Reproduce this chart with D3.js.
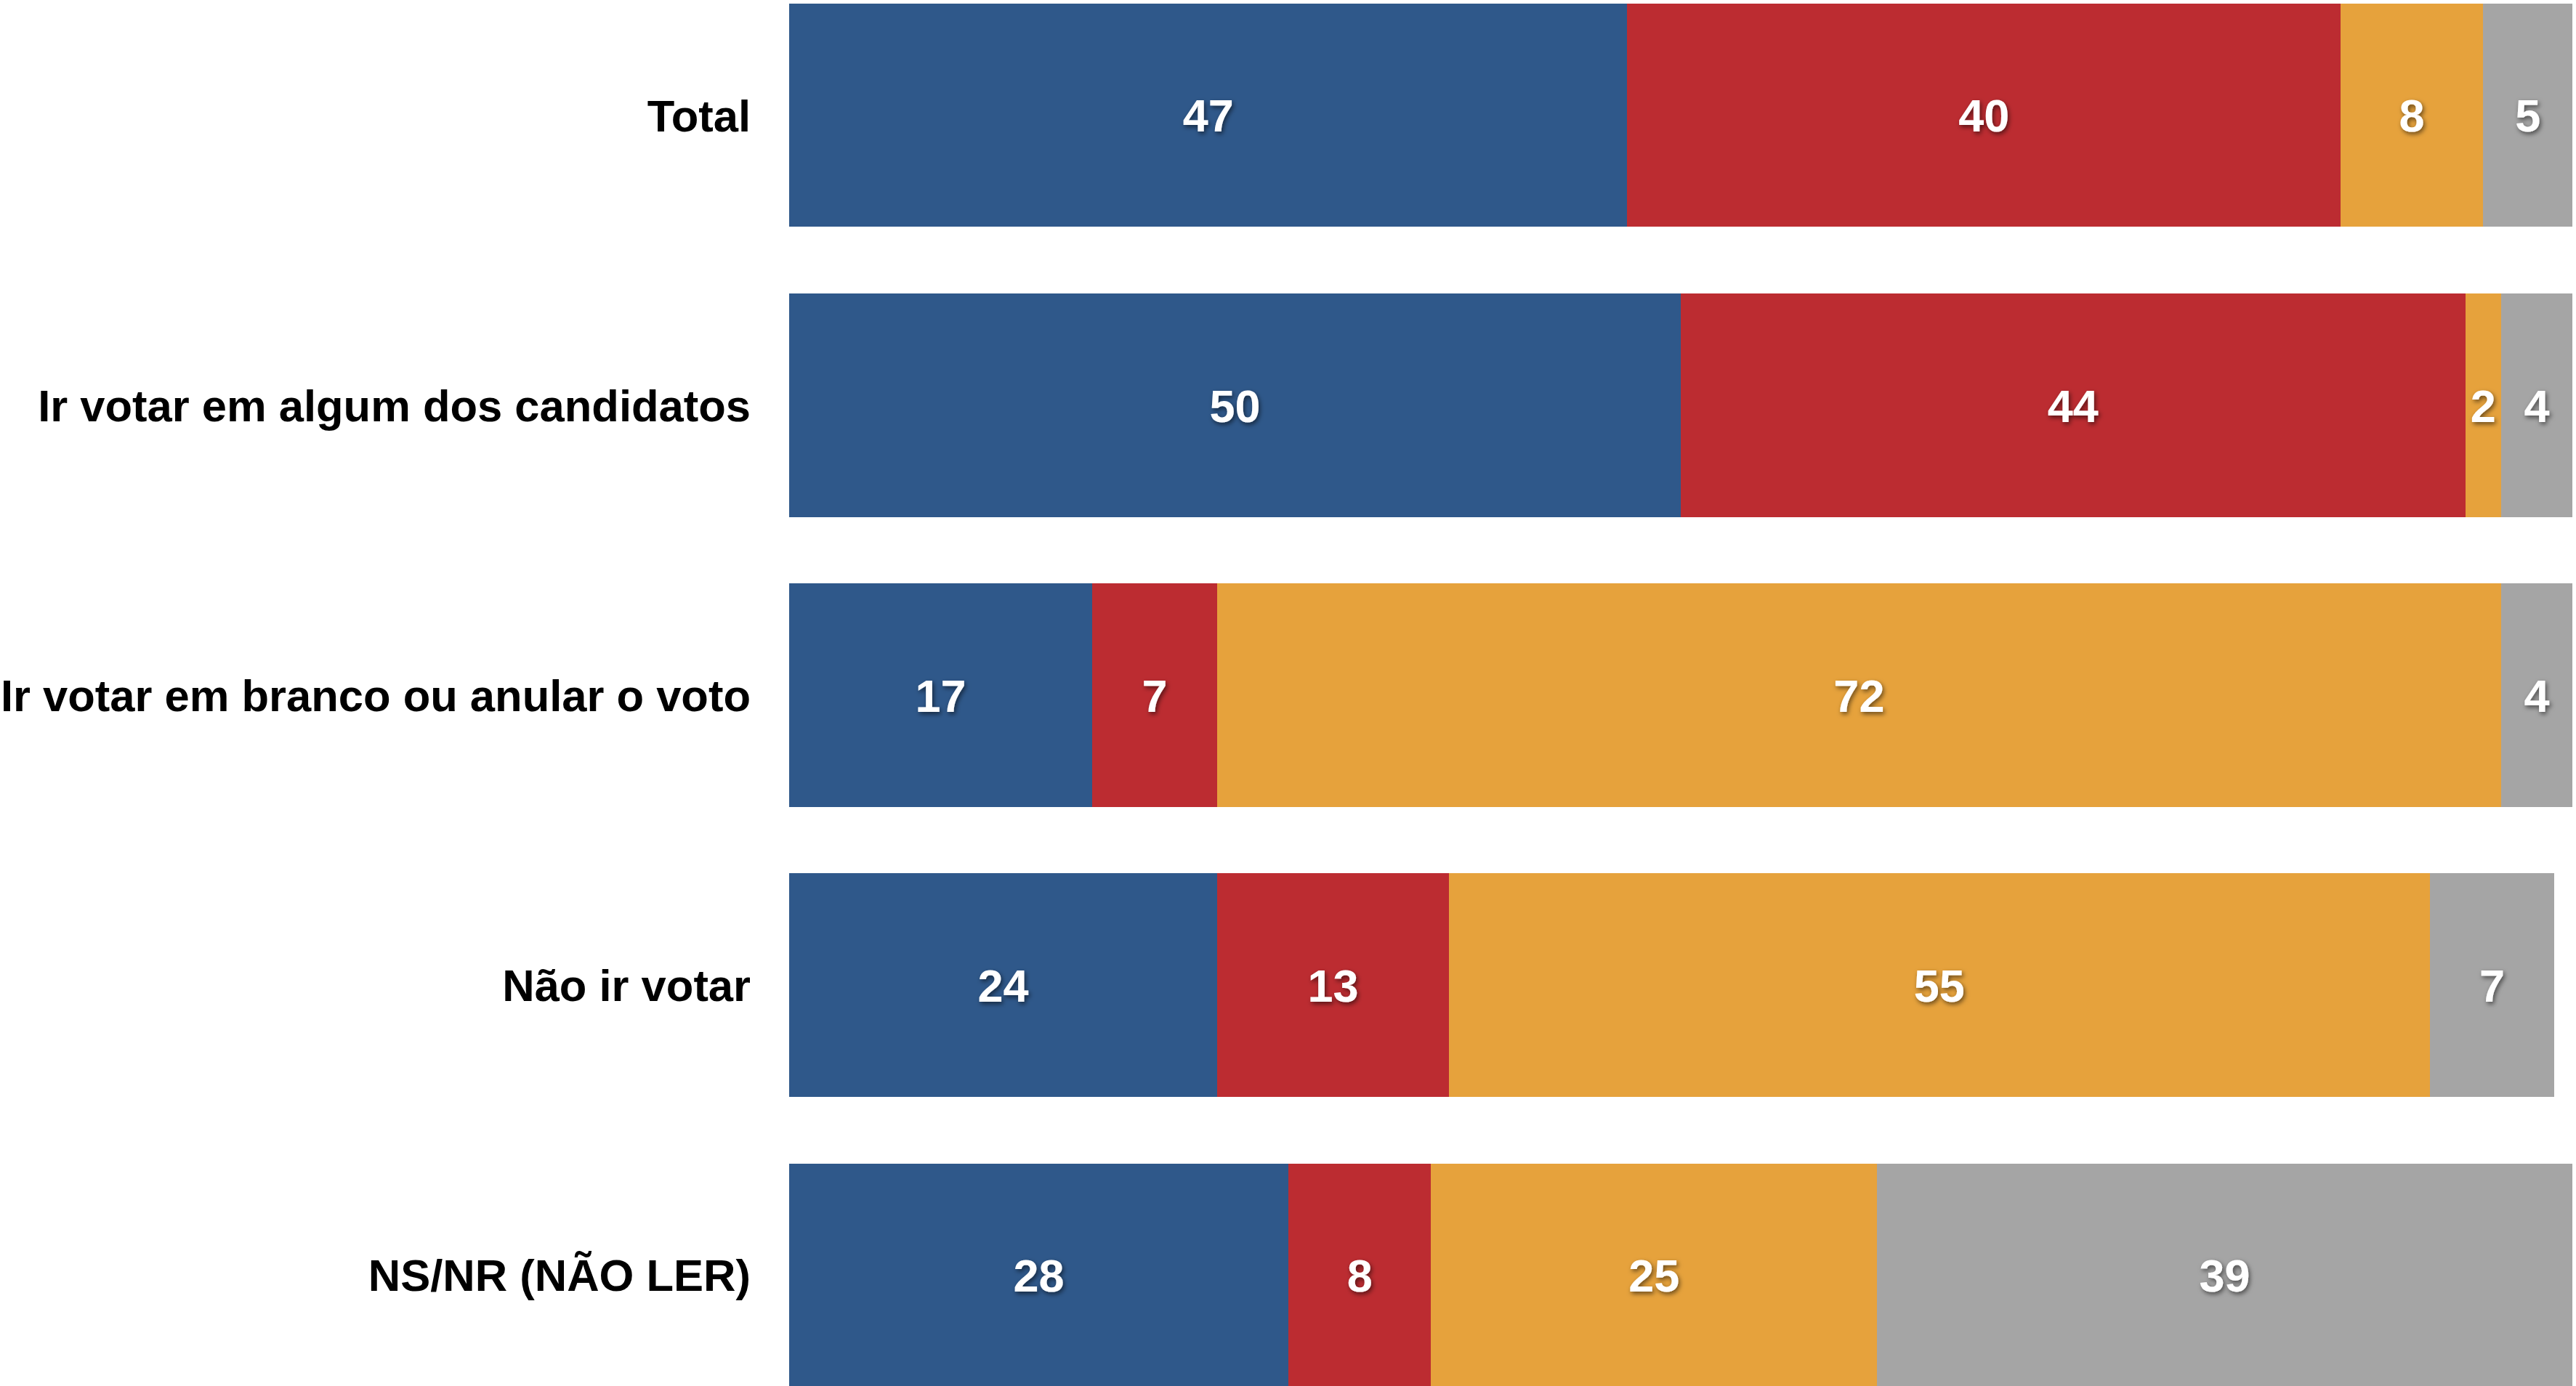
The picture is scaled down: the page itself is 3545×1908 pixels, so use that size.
<!DOCTYPE html>
<html>
<head>
<meta charset="utf-8">
<script src="https://cdn.jsdelivr.net/npm/d3@7"></script>
<style>
  html, body { margin: 0; padding: 0; background: #fff; }
  svg { display: block; }
</style>
</head>
<body>
<div id="chart-area"></div>
<script>

// Data
let categories = ["Total", "Ir votar em algum dos candidatos", "Ir votar em branco ou anular o voto", "Não ir votar", "NS/NR (NÃO LER)"];
let seriesKeys = ["s1", "s2", "s3", "s4"];
let s1Values = [47, 50, 17, 24, 28];
let s2Values = [40, 44, 7, 13, 8];
let s3Values = [8, 2, 72, 55, 25];
let s4Values = [5, 4, 4, 7, 39];
let seriesColors = ["#2f588a", "#bc2c31", "#e6a23c", "#a5a5a5"];

let width = 3545, height = 1908;

let svg = d3.select("#chart-area").append("svg")
    .attr("width", width)
    .attr("height", height);

// drop shadow for the numbers
let defs = svg.append("defs");
defs.append("filter")
    .attr("id", "shadow")
    .attr("x", "-50%").attr("y", "-50%")
    .attr("width", "200%").attr("height", "200%")
  .append("feDropShadow")
    .attr("dx", 2)
    .attr("dy", 3)
    .attr("stdDeviation", 3)
    .attr("flood-color", "#000")
    .attr("flood-opacity", 0.55);

// build rows for the stack
let rows = categories.map((c, i) => ({
    category: c,
    s1: s1Values[i],
    s2: s2Values[i],
    s3: s3Values[i],
    s4: s4Values[i]
}));

let stacked = d3.stack().keys(seriesKeys)(rows);

// Scales
let x = d3.scaleLinear()
    .domain([0, 100])
    .range([1086, 3540]);

let y = d3.scaleBand()
    .domain(categories)
    .range([5, 1909])
    .paddingInner(0.23)
    .paddingOuter(0);

let color = d3.scaleOrdinal()
    .domain(seriesKeys)
    .range(seriesColors);

// Bars
let layers = svg.selectAll("g.layer")
    .data(stacked)
    .enter().append("g")
    .attr("class", "layer")
    .attr("fill", d => color(d.key));

layers.selectAll("rect")
    .data(d => d)
    .enter().append("rect")
    .attr("shape-rendering", "crispEdges")
    .attr("x", d => x(d[0]))
    .attr("y", d => y(d.data.category))
    .attr("width", d => x(d[1]) - x(d[0]))
    .attr("height", y.bandwidth());

// Value labels
let valueLayers = svg.selectAll("g.values")
    .data(stacked)
    .enter().append("g")
    .attr("class", "values");

valueLayers.selectAll("text")
    .data(d => d.map(p => ({p: p, key: d.key})))
    .enter().append("text")
    .attr("x", d => (x(d.p[0]) + x(d.p[1])) / 2)
    .attr("y", d => y(d.p.data.category) + y.bandwidth() / 2)
    .attr("dy", "0.36em")
    .attr("text-anchor", "middle")
    .attr("font-family", "'Liberation Sans', Arial, sans-serif")
    .attr("font-weight", "bold")
    .attr("font-size", 63)
    .attr("fill", "#fff")
    .attr("filter", "url(#shadow)")
    .text(d => d.p.data[d.key]);

// Category axis
let yAxis = d3.axisLeft(y).tickSize(0).tickPadding(0);

let yGroup = svg.append("g")
    .attr("class", "axis y-axis")
    .attr("transform", "translate(" + 1033 + ",0)")
    .call(yAxis);

yGroup.select(".domain").remove();
yGroup.selectAll("text")
    .attr("font-family", "'Liberation Sans', Arial, sans-serif")
    .attr("font-weight", "bold")
    .attr("font-size", 61.5)
    .attr("fill", "#000")
    .attr("dy", "0.36em");

</script>
</body>
</html>
